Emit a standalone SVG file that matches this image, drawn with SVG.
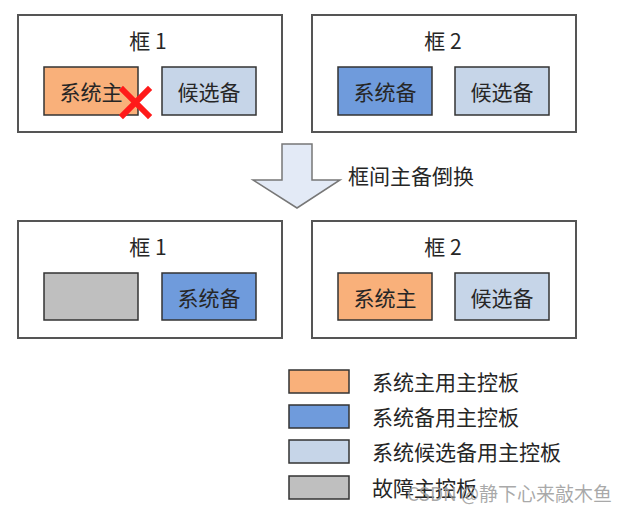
<svg xmlns="http://www.w3.org/2000/svg" width="632" height="510" viewBox="0 0 632 510">
<style>
text{font-family:"Noto Sans CJK SC","Noto Sans",sans-serif;fill:#262626;font-size:21px;}
.frame{fill:#fff;stroke:#555;stroke-width:2;}
.box{stroke:#333;stroke-width:1.5;}
.orange{fill:#f9b07a;}
.blue{fill:#6f9bdc;}
.lblue{fill:#c6d5e8;}
.gray{fill:#bfbfbf;}
.c{text-anchor:middle;dominant-baseline:central;}
.l{dominant-baseline:central;}
</style>
<rect width="632" height="510" fill="#fff"/>
<g id="frame1-top">
<rect class="frame" x="18" y="15" width="264" height="117"/>
<text class="c" x="148" y="40">框 1</text>
</g>
<g id="f1t-master">
<rect class="box orange" x="44" y="67" width="94" height="48"/>
<text class="c" x="91" y="91">系统主</text>
</g>
<g id="f1t-cand">
<rect class="box lblue" x="162" y="67" width="94" height="48"/>
<text class="c" x="209" y="91">候选备</text>
</g>
<g id="fault-mark">
<path d="M123 90 L148 115 M148 90 L123 115" stroke="#ff1a1a" stroke-width="6" stroke-linecap="square" fill="none"/>
</g>
<g id="frame2-top">
<rect class="frame" x="312" y="15" width="264" height="117"/>
<text class="c" x="443" y="40">框 2</text>
</g>
<g id="f2t-standby">
<rect class="box blue" x="338" y="67" width="94" height="48"/>
<text class="c" x="385" y="91">系统备</text>
</g>
<g id="f2t-cand">
<rect class="box lblue" x="455" y="67" width="94" height="48"/>
<text class="c" x="502" y="91">候选备</text>
</g>
<g id="connectors">
<path d="M282 144 L312 144 L312 180 L340 180 L297 208 L253 180 L282 180 Z" fill="#e3eaf6" stroke="#777" stroke-width="1.5" stroke-linejoin="miter"/>
<text class="l" x="348" y="175">框间主备倒换</text>
</g>
<g id="frame1-bottom">
<rect class="frame" x="18" y="221" width="264" height="117"/>
<text class="c" x="148" y="246">框 1</text>
</g>
<g id="f1b-fault">
<rect class="box gray" x="44" y="273" width="94" height="47"/>
</g>
<g id="f1b-standby">
<rect class="box blue" x="162" y="273" width="94" height="47"/>
<text class="c" x="209" y="296.5">系统备</text>
</g>
<g id="frame2-bottom">
<rect class="frame" x="312" y="221" width="264" height="117"/>
<text class="c" x="443" y="246">框 2</text>
</g>
<g id="f2b-master">
<rect class="box orange" x="338" y="273" width="94" height="47"/>
<text class="c" x="385" y="296.5">系统主</text>
</g>
<g id="f2b-cand">
<rect class="box lblue" x="455" y="273" width="94" height="47"/>
<text class="c" x="502" y="296.5">候选备</text>
</g>
<g id="legend">
<rect class="box orange" x="289" y="370" width="60" height="23"/>
<text class="l" x="372" y="381">系统主用主控板</text>
<rect class="box blue" x="289" y="405" width="60" height="23"/>
<text class="l" x="372" y="416">系统备用主控板</text>
<rect class="box lblue" x="289" y="440" width="60" height="23"/>
<text class="l" x="372" y="451">系统候选备用主控板</text>
<rect class="box gray" x="289" y="476" width="60" height="23"/>
<text class="l" x="372" y="487">故障主控板</text>
</g>
<g id="watermark">
<text class="l" x="407" y="492" style="fill:#9a9a9a;font-size:19px;fill-opacity:0.85">CSDN @静下心来敲木鱼</text>
</g>
</svg>
